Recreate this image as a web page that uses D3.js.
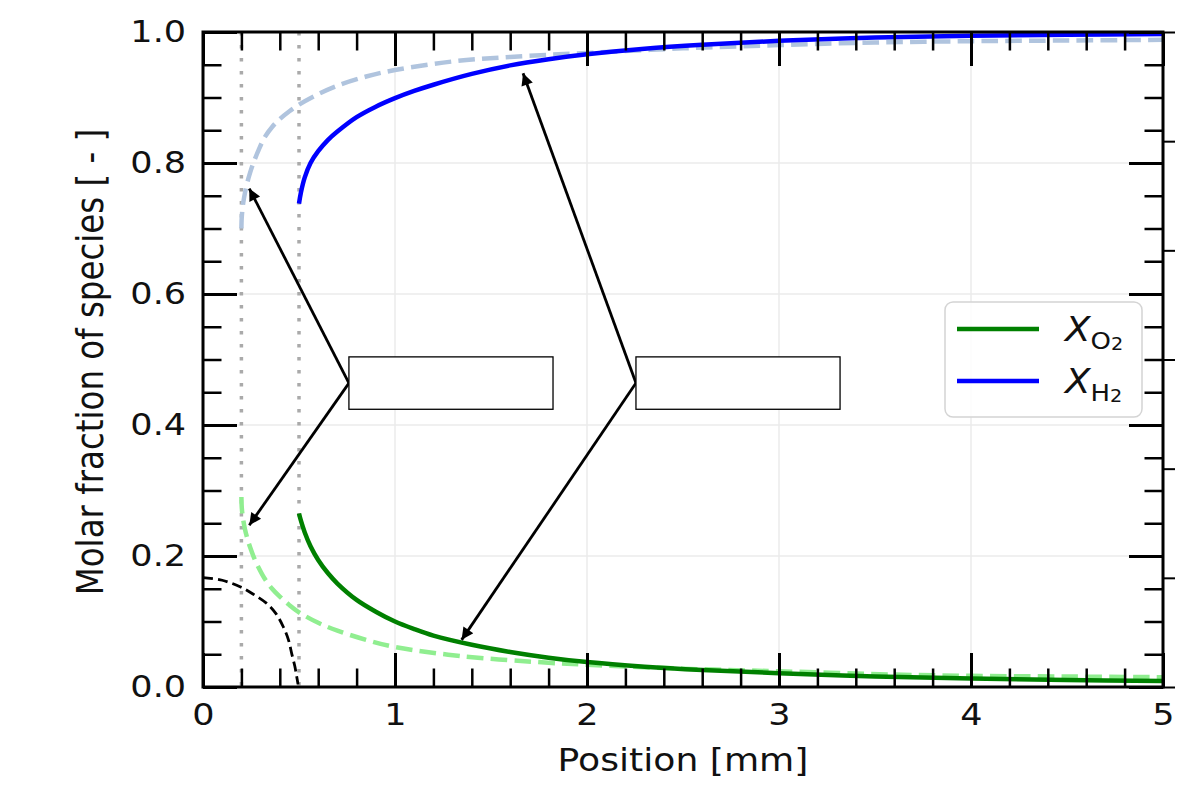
<!DOCTYPE html>
<html>
<head>
<meta charset="utf-8">
<script src="https://cdn.jsdelivr.net/npm/d3@7"></script>
<style>
  body { margin: 0; background: #fff; }
  text { font-family: "DejaVu Sans", sans-serif; }
</style>
</head>
<body>
<div id="vis"></div>
<script>
// tick values
var xTicks = [0, 1, 2, 3, 4, 5];
var yTicks = [0, 0.2, 0.4, 0.6, 0.8, 1.0];
var refLines = [0.2, 0.5];

// H2 molar fraction, solid (model) and dashed (reference)
var h2X = [0.5, 0.51, 0.53, 0.56, 0.6, 0.65, 0.7, 0.8, 0.9, 1.0, 1.1, 1.2, 1.4, 1.6, 1.8, 2.0, 2.3, 2.6, 3.0, 3.5, 4.0, 4.5, 5.0];
var h2Y = [0.738, 0.755, 0.778, 0.80, 0.818, 0.835, 0.848, 0.87, 0.886, 0.899, 0.91, 0.9195, 0.936, 0.949, 0.9585, 0.966, 0.9745, 0.9805, 0.9865, 0.9915, 0.9942, 0.9958, 0.997];
var h2RefX = [0.2, 0.2015, 0.205, 0.21, 0.218, 0.23, 0.245, 0.265, 0.29, 0.32, 0.36, 0.4, 0.45, 0.5, 0.6, 0.7, 0.85, 1.0, 1.3, 1.6, 2.0, 2.5, 3.0, 3.5, 4.0, 4.5, 5.0];
var h2RefY = [0.70, 0.7155, 0.728, 0.74, 0.7537, 0.7693, 0.7849, 0.802, 0.82, 0.8386, 0.855, 0.867, 0.879, 0.889, 0.905, 0.918, 0.932, 0.942, 0.955, 0.962, 0.968, 0.975, 0.98, 0.984, 0.986, 0.987, 0.988];

// O2 molar fraction, solid (model) and dashed (reference)
var o2X = [0.5, 0.51, 0.53, 0.56, 0.6, 0.65, 0.7, 0.8, 0.9, 1.0, 1.1, 1.2, 1.4, 1.6, 1.8, 2.0, 2.3, 2.6, 3.0, 3.5, 4.0, 4.5, 5.0];
var o2Y = [0.265, 0.254, 0.236, 0.215, 0.194, 0.174, 0.158, 0.133, 0.115, 0.100, 0.0885, 0.0785, 0.0645, 0.0535, 0.0448, 0.038, 0.031, 0.026, 0.021, 0.016, 0.0128, 0.0105, 0.009];
var o2RefX = [0.2, 0.2015, 0.205, 0.21, 0.218, 0.23, 0.245, 0.265, 0.29, 0.32, 0.36, 0.4, 0.45, 0.5, 0.6, 0.7, 0.85, 1.0, 1.35, 1.8, 2.0, 2.5, 3.0, 3.6, 4.0, 4.5, 5.0];
var o2RefY = [0.29, 0.276, 0.2645, 0.254, 0.2417, 0.2276, 0.2136, 0.198, 0.182, 0.166, 0.150, 0.138, 0.125, 0.114, 0.098, 0.086, 0.072, 0.061, 0.047, 0.037, 0.034, 0.028, 0.024, 0.019, 0.017, 0.016, 0.015];

// black dashed profile near the inlet
var inletX = [0, 0.1, 0.193, 0.26, 0.33, 0.38, 0.418, 0.445, 0.462, 0.478, 0.488, 0.495];
var inletY = [0.167, 0.163, 0.153, 0.142, 0.128, 0.112, 0.092, 0.072, 0.051, 0.032, 0.016, 0.004];

// annotation boxes [x0, x1, y0, y1] and arrow tips, data coordinates
var boxes = [[0.76, 1.823, 0.424, 0.504], [2.255, 3.318, 0.424, 0.504]];
var arrowTips = [
  [[0.241, 0.761], [0.241, 0.247]],
  [[1.667, 0.937], [1.347, 0.072]]
];

var W = 1204, H = 786;
var plotL = 203, plotR = 1163, plotT = 32, plotB = 687;
var SX = 1.13; // horizontal stretch of the lettering

var svg = d3.select("#vis").append("svg").attr("width", W).attr("height", H);

var x = d3.scaleLinear().domain([0, 5]).range([plotL, plotR]);
var y = d3.scaleLinear().domain([0, 1]).range([plotB, plotT]);

function zip(xs, ys){
  return xs.map(function(v, i){ return [v, ys[i]]; });
}

var line = d3.line()
  .x(function(d){ return x(d[0]); })
  .y(function(d){ return y(d[1]); })
  .curve(d3.curveCatmullRom.alpha(0.5));

// grid
var grid = svg.append("g");
grid.selectAll(".gx").data(xTicks.slice(1, -1)).enter().append("line")
  .attr("x1", function(d){ return x(d); }).attr("x2", function(d){ return x(d); })
  .attr("y1", plotT).attr("y2", plotB)
  .attr("stroke", "#ebebeb").attr("stroke-width", 1.5);
grid.selectAll(".gy").data(yTicks.slice(1, -1)).enter().append("line")
  .attr("y1", function(d){ return y(d); }).attr("y2", function(d){ return y(d); })
  .attr("x1", plotL).attr("x2", plotR)
  .attr("stroke", "#ebebeb").attr("stroke-width", 1.5);

// dotted reference positions
svg.selectAll(".ref").data(refLines).enter().append("line")
  .attr("x1", function(d){ return x(d); }).attr("x2", function(d){ return x(d); })
  .attr("y1", plotT).attr("y2", plotB)
  .attr("stroke", "#aaaaaa").attr("stroke-width", 3.5)
  .attr("stroke-dasharray", "3.5,9.5");

// curves
var series = [
  {pts: zip(inletX, inletY), color: "#000000", w: 2.8, dash: "10,5"},
  {pts: zip(o2RefX, o2RefY), color: "#90ee90", w: 4.5, dash: "16.6,7.2"},
  {pts: zip(h2RefX, h2RefY), color: "#b0c4de", w: 4.5, dash: "16.6,7.2"},
  {pts: zip(o2X, o2Y), color: "#008000", w: 4.5, dash: null},
  {pts: zip(h2X, h2Y), color: "#0000ff", w: 4.5, dash: null}
];
svg.append("g").selectAll("path").data(series).enter().append("path")
  .attr("d", function(d){ return line(d.pts); })
  .attr("fill", "none")
  .attr("stroke", function(d){ return d.color; })
  .attr("stroke-width", function(d){ return d.w; })
  .attr("stroke-dasharray", function(d){ return d.dash; });

// arrows and boxes
svg.append("defs").append("marker")
  .attr("id", "head").attr("viewBox", "0 0 10 10")
  .attr("refX", 10).attr("refY", 5)
  .attr("markerUnits", "userSpaceOnUse")
  .attr("markerWidth", 19).attr("markerHeight", 12)
  .attr("orient", "auto")
  .append("path").attr("d", "M0,0 L10,5 L0,10 z").attr("fill", "#000");

var ann = svg.append("g");
boxes.forEach(function(b, i){
  var sx = x(b[0]), sy = y((b[2] + b[3]) / 2);
  arrowTips[i].forEach(function(t){
    ann.append("line")
      .attr("x1", sx).attr("y1", sy)
      .attr("x2", x(t[0])).attr("y2", y(t[1]))
      .attr("stroke", "#000").attr("stroke-width", 2.8)
      .attr("marker-end", "url(#head)");
  });
  ann.append("rect")
    .attr("x", x(b[0])).attr("y", y(b[3]))
    .attr("width", x(b[1]) - x(b[0])).attr("height", y(b[2]) - y(b[3]))
    .attr("fill", "#fff").attr("stroke", "#000").attr("stroke-width", 1.3);
});

// legend
var legendItems = [
  {sub: "O", color: "#008000"},
  {sub: "H", color: "#0000ff"}
];
var lg = svg.append("g");
lg.append("rect").attr("x", 945).attr("y", 302).attr("width", 197).attr("height", 115)
  .attr("rx", 8).attr("fill", "#fff").attr("fill-opacity", 0.85)
  .attr("stroke", "#d4d4d4").attr("stroke-width", 1.5);
legendItems.forEach(function(d, i){
  var ly = 329 + i * 52;
  lg.append("line").attr("x1", 957).attr("x2", 1039).attr("y1", ly).attr("y2", ly)
    .attr("stroke", d.color).attr("stroke-width", 4.5);
  var t = lg.append("text")
    .attr("transform", "translate(1065," + (ly + 12) + ") scale(" + SX + ",1)")
    .attr("font-size", 33).attr("fill", "#111");
  t.append("tspan").attr("font-style", "italic").text("X");
  t.append("tspan").attr("font-size", 23).attr("dy", 8).text(d.sub);
  t.append("tspan").attr("font-size", 17).attr("dy", 1).text("2");
});

// axes: inward ticks on all four sides
function styleAxis(g, w){
  g.select(".domain").remove();
  g.selectAll(".tick line").attr("stroke", "#000").attr("stroke-width", w);
}
var xMinor = d3.range(0, 5.001, 0.2);
var yMinor = d3.range(0, 1.001, 0.05);

var axes = svg.append("g");
var gb = axes.append("g").attr("transform", "translate(0," + plotB + ")")
  .call(d3.axisBottom(x).tickValues(xTicks).tickSize(-34).tickPadding(16).tickFormat(d3.format("d")));
styleAxis(gb, 3);
axes.append("g").attr("transform", "translate(0," + plotB + ")")
  .call(d3.axisBottom(x).tickValues(xMinor).tickSize(-18.5).tickFormat("")).call(styleAxis, 2.5);
axes.append("g").attr("transform", "translate(0," + plotT + ")")
  .call(d3.axisTop(x).tickValues(xTicks).tickSize(-34).tickFormat("")).call(styleAxis, 3);
axes.append("g").attr("transform", "translate(0," + plotT + ")")
  .call(d3.axisTop(x).tickValues(xMinor).tickSize(-18.5).tickFormat("")).call(styleAxis, 2.5);

var gl = axes.append("g").attr("transform", "translate(" + plotL + ",0)")
  .call(d3.axisLeft(y).tickValues(yTicks).tickSize(-34).tickPadding(15).tickFormat(d3.format(".1f")));
styleAxis(gl, 3);
axes.append("g").attr("transform", "translate(" + plotL + ",0)")
  .call(d3.axisLeft(y).tickValues(yMinor).tickSize(-18.5).tickFormat("")).call(styleAxis, 2.5);
axes.append("g").attr("transform", "translate(" + plotR + ",0)")
  .call(d3.axisRight(y).tickValues(yTicks).tickSize(-34).tickFormat("")).call(styleAxis, 3);
axes.append("g").attr("transform", "translate(" + plotR + ",0)")
  .call(d3.axisRight(y).tickValues(yMinor).tickSize(-18.5).tickFormat("")).call(styleAxis, 2.5);

// secondary right axis: outward ticks only
var y2 = d3.scaleLinear().domain([0, 6]).range([plotB, plotT]);
axes.append("g").attr("transform", "translate(" + plotR + ",0)")
  .call(d3.axisRight(y2).ticks(6).tickSize(12).tickFormat("")).call(styleAxis, 2);

[gb, gl].forEach(function(g){
  g.selectAll("text").attr("font-size", 31).attr("fill", "#111")
    .attr("font-family", "'DejaVu Sans', sans-serif")
    .attr("transform", "scale(" + SX + ",1)");
});

axes.append("rect").attr("x", plotL).attr("y", plotT)
  .attr("width", plotR - plotL).attr("height", plotB - plotT)
  .attr("fill", "none").attr("stroke", "#000").attr("stroke-width", 3);

// axis titles
svg.append("text")
  .attr("transform", "translate(683,771) scale(" + SX + ",1)")
  .attr("text-anchor", "middle").attr("font-size", 32).attr("fill", "#111")
  .text("Position [mm]");
svg.append("text")
  .attr("transform", "translate(103,362) rotate(-90) scale(1," + SX + ")")
  .attr("text-anchor", "middle").attr("font-size", 32.5).attr("fill", "#111")
  .text("Molar fraction of species [ - ]");
</script>
</body>
</html>
